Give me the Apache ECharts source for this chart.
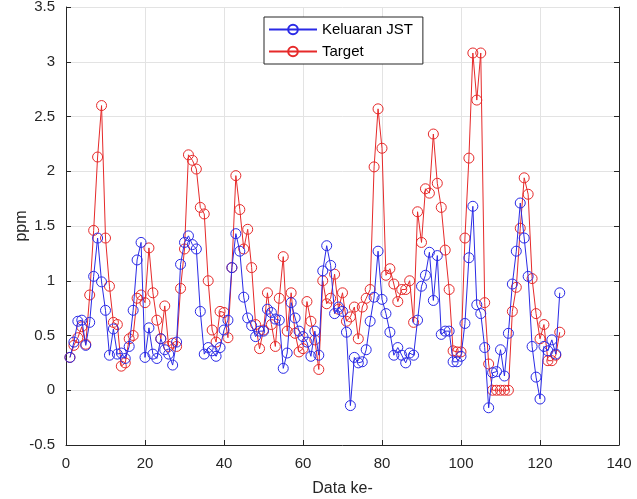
<!DOCTYPE html>
<html>
<head>
<meta charset="utf-8">
<script src="https://cdn.jsdelivr.net/npm/echarts@6/dist/echarts.min.js"></script>
<style>
  html, body { margin: 0; padding: 0; background: #fff; }
  #chart { width: 637px; height: 499px; }
</style>
</head>
<body>
<div id="chart"></div>
<script>
// nilai (indeks 1..125)
var keluaranJST = [
  0.30, 0.44, 0.63, 0.64, 0.41, 0.62, 1.04, 1.39, 0.99, 0.73,
  0.32, 0.56, 0.33, 0.34, 0.29, 0.40, 0.73, 1.19, 1.35, 0.30,
  0.57, 0.33, 0.29, 0.47, 0.37, 0.33, 0.23, 0.44, 1.15, 1.35,
  1.41, 1.33, 1.29, 0.72, 0.33, 0.39, 0.36, 0.31, 0.39, 0.55,
  0.64, 1.12, 1.43, 1.27, 0.85, 0.66, 0.59, 0.49, 0.54, 0.54,
  0.74, 0.71, 0.65, 0.64, 0.20, 0.34, 0.80, 0.66, 0.54, 0.49,
  0.44, 0.31, 0.54, 0.32, 1.09, 1.32, 1.14, 0.70, 0.76, 0.72,
  0.53, -0.14, 0.30, 0.25, 0.26, 0.37, 0.63, 0.85, 1.27, 0.83,
  0.70, 0.53, 0.32, 0.39, 0.32, 0.25, 0.34, 0.32, 0.64, 0.95,
  1.05, 1.26, 0.82, 1.23, 0.51, 0.54, 0.54, 0.26, 0.26, 0.31,
  0.61, 1.21, 1.68, 0.78, 0.70, 0.39, -0.16, 0.16, 0.17, 0.37,
  0.13, 0.52, 0.97, 1.27, 1.71, 1.39, 1.04, 0.40, 0.12, -0.08,
  0.40, 0.36, 0.46, 0.33, 0.89
];
var target = [
  0.30, 0.41, 0.48, 0.58, 0.42, 0.87, 1.46, 2.13, 2.60, 1.39,
  0.95, 0.62, 0.60, 0.22, 0.25, 0.47, 0.50, 0.84, 0.87, 0.80,
  1.30, 0.89, 0.64, 0.47, 0.77, 0.40, 0.43, 0.40, 0.93, 1.29,
  2.15, 2.10, 2.02, 1.67, 1.61, 1.00, 0.55, 0.44, 0.72, 0.71,
  0.48, 1.12, 1.96, 1.65, 1.29, 1.47, 1.12, 0.60, 0.38, 0.55,
  0.89, 0.60, 0.40, 0.84, 1.22, 0.54, 0.89, 0.52, 0.35, 0.38,
  0.81, 0.63, 0.46, 0.19, 1.00, 0.79, 0.84, 1.06, 0.74, 0.89,
  0.63, 0.67, 0.76, 0.47, 0.76, 0.84, 0.92, 2.04, 2.57, 2.21,
  1.05, 1.11, 0.97, 0.81, 0.92, 0.92, 1.00, 0.62, 1.63, 1.35,
  1.84, 1.80, 2.34, 1.89, 1.67, 1.28, 0.92, 0.36, 0.35, 0.35,
  1.39, 2.12, 3.08, 2.65, 3.08, 0.80, 0.24, 0.00, 0.00, 0.00,
  0.00, 0.00, 0.72, 0.94, 1.48, 1.94, 1.79, 1.02, 0.70, 0.47,
  0.60, 0.27, 0.27, 0.32, 0.53
];

function toPairs(arr) {
  return arr.map(function (v, i) { return [i + 1, v]; });
}

var fontF = '"Liberation Sans", Arial, sans-serif';
var axisCol = '#262626';

var chart = echarts.init(document.getElementById('chart'));

var option = {
  animation: false,
  backgroundColor: '#ffffff',
  grid: { left: 66, right: 18, top: 7, bottom: 54, containLabel: false, outerBoundsMode: 'none' },
  legend: {
    orient: 'vertical',
    left: 264,
    top: 17,
    padding: [5, 10, 5, 4],
    itemGap: 7,
    itemWidth: 48,
    itemHeight: 12,
    borderColor: axisCol,
    borderWidth: 1,
    backgroundColor: '#ffffff',
    textStyle: { fontFamily: fontF, fontSize: 15, color: '#000' },
    data: ['Keluaran JST', 'Target']
  },
  xAxis: {
    type: 'value',
    min: 0, max: 140, interval: 20,
    name: 'Data ke-',
    nameLocation: 'middle',
    nameGap: 36,
    nameTextStyle: { fontFamily: fontF, fontSize: 16, color: axisCol },
    axisLine: { onZero: false, lineStyle: { color: axisCol } },
    axisTick: { inside: true, length: 5, lineStyle: { color: axisCol } },
    axisLabel: { fontFamily: fontF, fontSize: 15, color: axisCol, margin: 11 },
    splitLine: { show: true, lineStyle: { color: '#e3e3e3' } }
  },
  yAxis: [{
    type: 'value',
    min: -0.5, max: 3.5, interval: 0.5,
    name: 'ppm',
    nameLocation: 'middle',
    nameGap: 36,
    nameMoveOverlap: false,
    nameTextStyle: { fontFamily: fontF, fontSize: 16, color: axisCol },
    axisLine: { show: true, onZero: false, lineStyle: { color: axisCol } },
    axisTick: { show: true, inside: true, length: 5, lineStyle: { color: axisCol } },
    axisLabel: { fontFamily: fontF, fontSize: 15, color: axisCol, margin: 11 },
    splitLine: { show: true, lineStyle: { color: '#e3e3e3' } }
  }, {
    type: 'value',
    position: 'right',
    min: -0.5, max: 3.5, interval: 0.5,
    axisLine: { show: true, onZero: false, lineStyle: { color: axisCol } },
    axisTick: { show: true, inside: true, length: 5, lineStyle: { color: axisCol } },
    axisLabel: { show: false },
    splitLine: { show: false }
  }],
  series: [
    {
      name: 'Keluaran JST',
      type: 'line',
      data: toPairs(keluaranJST),
      symbol: 'circle',
      symbolSize: 10,
      showAllSymbol: true,
      color: '#2a2ae6',
      itemStyle: { color: 'rgba(255,255,255,0)', borderColor: '#2a2ae6', borderWidth: 1 },
      lineStyle: { color: '#2a2ae6', width: 1 },
      z: 3
    },
    {
      name: 'Target',
      type: 'line',
      data: toPairs(target),
      symbol: 'circle',
      symbolSize: 10,
      showAllSymbol: true,
      color: '#e62a2a',
      itemStyle: { color: 'rgba(255,255,255,0)', borderColor: '#e62a2a', borderWidth: 1 },
      lineStyle: { color: '#e62a2a', width: 1 },
      z: 2
    }
  ]
};

chart.setOption(option);
</script>
</body>
</html>
